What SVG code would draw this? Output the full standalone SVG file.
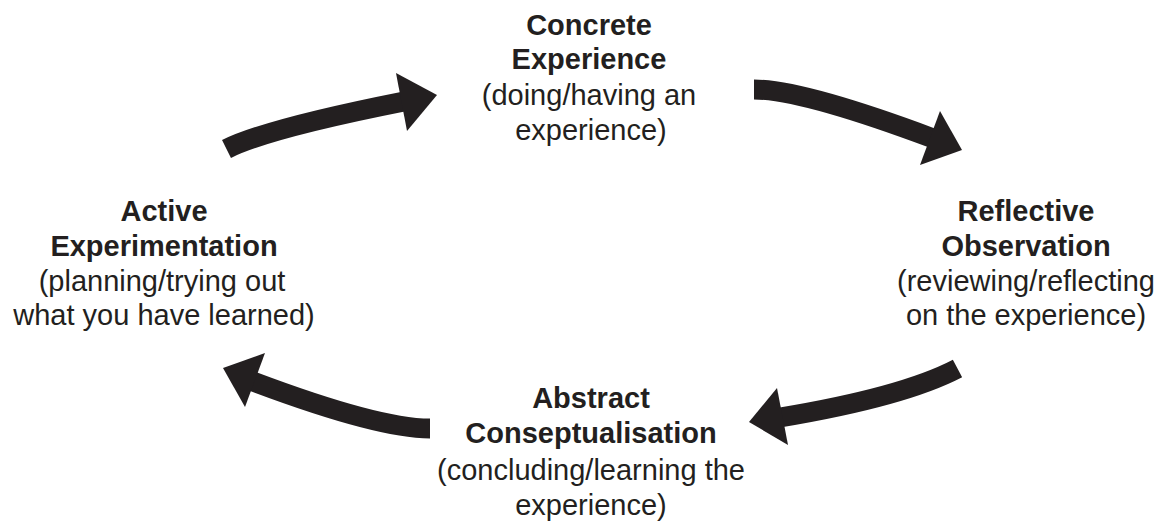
<svg xmlns="http://www.w3.org/2000/svg" width="1164" height="522" viewBox="0 0 1164 522">
<style>
.t{font-family:"Liberation Sans",Arial,sans-serif;font-size:29px;fill:#231f20;text-anchor:middle}
.b{font-weight:bold}
.shaft{fill:none;stroke:#231f20;stroke-width:20;stroke-linecap:butt}
.head{fill:#231f20}
</style>
<rect width="1164" height="522" fill="#ffffff"/>
<g id="connectors">
<path class="shaft" d="M226.5,149 Q267,128.7 404,101.5"/>
<polygon class="head" points="396,73 437,95 407,131"/>
<path class="shaft" d="M754,89.5 Q802,89.5 932,138"/>
<polygon class="head" points="940,111 962,150 920,165"/>
<path class="shaft" d="M957.5,368.5 Q903,397 780,417.5"/>
<polygon class="head" points="777,388 749,422 788,445"/>
<path class="shaft" d="M430,428.5 Q378,428.5 253,381.5"/>
<polygon class="head" points="265,353 223,368 245,407"/>
</g>
<g id="concrete-experience">
<text class="t b" x="589" y="35">Concrete</text>
<text class="t b" x="589" y="69">Experience</text>
<text class="t" x="589" y="105">(doing/having an</text>
<text class="t" x="591" y="140">experience)</text>
</g>
<g id="reflective-observation">
<text class="t b" x="1026" y="221">Reflective</text>
<text class="t b" x="1026" y="256">Observation</text>
<text class="t" x="1026" y="291">(reviewing/reflecting</text>
<text class="t" x="1026" y="325">on the experience)</text>
</g>
<g id="abstract-conceptualisation">
<text class="t b" x="591" y="408">Abstract</text>
<text class="t b" x="591" y="443">Conseptualisation</text>
<text class="t" x="591" y="480">(concluding/learning the</text>
<text class="t" x="591" y="515">experience)</text>
</g>
<g id="active-experimentation">
<text class="t b" x="164" y="221">Active</text>
<text class="t b" x="164" y="256">Experimentation</text>
<text class="t" x="162" y="291">(planning/trying out</text>
<text class="t" x="164" y="325">what you have learned)</text>
</g>
</svg>
